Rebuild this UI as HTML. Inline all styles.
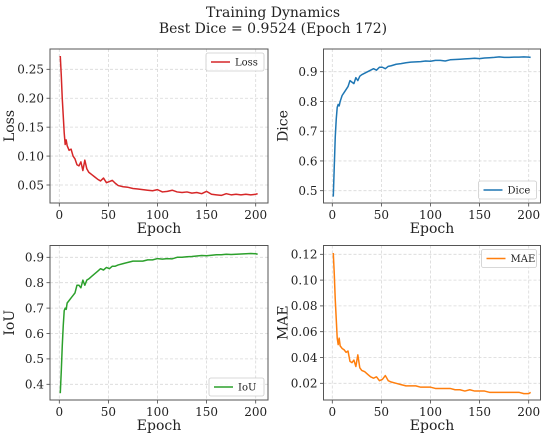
<!DOCTYPE html>
<html><head><meta charset="utf-8"><style>
body{margin:0;background:#fff;}
svg{display:block;font-family:"DejaVu Serif","Liberation Serif",serif;}
</style></head><body>
<svg id="chart" width="546" height="437" viewBox="0 0 546 437">
<text x="273" y="17" text-anchor="middle" font-size="14" fill="#222">Training Dynamics</text>
<text x="273" y="33" text-anchor="middle" font-size="14" fill="#222">Best Dice = 0.9524 (Epoch 172)</text>
</svg>
<script>
const epochs=[1,2,3,4,5,6,7,8,10,12,14,16,18,20,22,24,26,28,30,33,36,39,42,45,48,51,54,57,60,65,70,75,80,85,90,95,100,105,110,115,120,125,130,135,140,145,150,155,160,165,170,175,180,185,190,195,200,202];
const lossVals=[0.273,0.24,0.2,0.17,0.14,0.12,0.128,0.118,0.11,0.112,0.1,0.095,0.085,0.083,0.09,0.075,0.093,0.078,0.072,0.068,0.064,0.06,0.057,0.062,0.054,0.056,0.058,0.053,0.049,0.047,0.046,0.044,0.043,0.042,0.041,0.04,0.042,0.038,0.039,0.041,0.038,0.037,0.038,0.036,0.037,0.035,0.039,0.034,0.033,0.032,0.035,0.033,0.034,0.033,0.034,0.033,0.034,0.035];
const diceVals=[0.48,0.58,0.68,0.74,0.78,0.79,0.785,0.80,0.82,0.83,0.84,0.85,0.87,0.865,0.86,0.88,0.87,0.885,0.89,0.895,0.90,0.905,0.91,0.905,0.915,0.915,0.91,0.918,0.92,0.925,0.927,0.93,0.932,0.933,0.934,0.936,0.935,0.938,0.938,0.936,0.94,0.941,0.942,0.943,0.944,0.945,0.944,0.946,0.947,0.948,0.95,0.948,0.948,0.949,0.949,0.95,0.949,0.948];
const iouVals=[0.365,0.45,0.55,0.63,0.69,0.70,0.695,0.72,0.73,0.74,0.75,0.76,0.79,0.79,0.78,0.81,0.79,0.81,0.815,0.825,0.835,0.845,0.855,0.85,0.86,0.855,0.865,0.865,0.87,0.875,0.88,0.885,0.885,0.885,0.89,0.89,0.895,0.893,0.895,0.894,0.9,0.9,0.902,0.903,0.905,0.907,0.906,0.908,0.91,0.91,0.912,0.911,0.912,0.913,0.914,0.915,0.914,0.912];
const maeVals=[0.121,0.105,0.085,0.07,0.055,0.05,0.055,0.049,0.047,0.046,0.044,0.045,0.037,0.036,0.038,0.033,0.042,0.032,0.03,0.029,0.027,0.025,0.024,0.025,0.022,0.023,0.026,0.022,0.021,0.02,0.019,0.018,0.018,0.018,0.017,0.017,0.017,0.016,0.016,0.016,0.016,0.015,0.015,0.014,0.015,0.014,0.014,0.014,0.013,0.013,0.013,0.013,0.013,0.013,0.013,0.012,0.012,0.013];
const xTicks=[0,50,100,150,200];
const lossTicks=[0.05,0.10,0.15,0.20,0.25];
const diceTicks=[0.5,0.6,0.7,0.8,0.9];
const iouTicks=[0.4,0.5,0.6,0.7,0.8,0.9];
const maeTicks=[0.02,0.04,0.06,0.08,0.10,0.12];

const NS='http://www.w3.org/2000/svg';
const svg=document.getElementById('chart');
function mk(tag,attrs,parent){const e=document.createElementNS(NS,tag);for(const k in attrs)e.setAttribute(k,attrs[k]);(parent||svg).appendChild(e);return e;}

const panels=[
 {key:'loss',label:'Loss',vals:lossVals,ticks:lossTicks,dec:2,color:'#d62728',box:[50,49,268,203],x0:59.3,x200:255.7,yA:[0.05,185],yB:[0.25,69.3],legend:'tr'},
 {key:'dice',label:'Dice',vals:diceVals,ticks:diceTicks,dec:1,color:'#1f77b4',box:[323.5,49,540.5,203],x0:332.3,x200:528.7,yA:[0.5,190.7],yB:[0.9,71.7],legend:'br'},
 {key:'iou',label:'IoU',vals:iouVals,ticks:iouTicks,dec:1,color:'#2ca02c',box:[50,245.5,268,400],x0:59.3,x200:255.7,yA:[0.4,384.3],yB:[0.9,257.3],legend:'br'},
 {key:'mae',label:'MAE',vals:maeVals,ticks:maeTicks,dec:2,color:'#ff7f0e',box:[323.5,245.5,540.5,400],x0:332.3,x200:528.7,yA:[0.02,383.3],yB:[0.12,254.3],legend:'tr'}
];

panels.forEach(p=>{
 const g=mk('g',{});
 
 
 const [L,T,R,B]=p.box;
 const xs=v=>p.x0+(v/200)*(p.x200-p.x0);
 const ys=v=>p.yA[1]+(v-p.yA[0])*(p.yB[1]-p.yA[1])/(p.yB[0]-p.yA[0]);
 xTicks.forEach(t=>{
  const l=mk('line',{x1:xs(t),x2:xs(t),y1:T,y2:B,stroke:'#d8d8d8','stroke-width':0.8,'stroke-dasharray':'3,2'},g);
  
  
  mk('line',{x1:xs(t),x2:xs(t),y1:B,y2:B+3.5,stroke:'#444','stroke-width':0.8},g);
  const tx=mk('text',{x:xs(t),y:B+16,'text-anchor':'middle','font-size':12,fill:'#222'},g);
  tx.textContent=t;
  
  
 });
 p.ticks.forEach(t=>{
  const y=ys(t);
  const l=mk('line',{x1:L,x2:R,y1:y,y2:y,stroke:'#d8d8d8','stroke-width':0.8,'stroke-dasharray':'3,2'},g);
  
  
  mk('line',{x1:L-3.5,x2:L,y1:y,y2:y,stroke:'#444','stroke-width':0.8},g);
  const tx=mk('text',{x:L-6,y:y+4.3,'text-anchor':'end','font-size':12,fill:'#222'},g);
  tx.textContent=t.toFixed(p.dec);
  
  
 });
 const d=epochs.map((e,i)=>(i?'L':'M')+xs(e).toFixed(2)+','+ys(p.vals[i]).toFixed(2)).join('');
 const path=mk('path',{d:d,fill:'none',stroke:p.color,'stroke-width':1.5,'stroke-linejoin':'round'},g);
 
 
 const fr=mk('rect',{x:L,y:T,width:R-L,height:B-T,fill:'none',stroke:'#555','stroke-width':1},g);
 
 
 const xl=mk('text',{x:(L+R)/2,y:B+30,'text-anchor':'middle','font-size':14,fill:'#222'},g);
 xl.textContent='Epoch';
 
 
 const lx=L-36;
 const yl=mk('text',{x:lx,y:(T+B)/2,'text-anchor':'middle','font-size':14,fill:'#222',transform:'rotate(-90 '+lx+' '+((T+B)/2)+')'},g);
 yl.textContent=p.label;
 
 
 const w=p.label.length>3?58:55, h=18;
 const lxp=R-w-4, lyp=p.legend==='tr'?T+4:B-h-4;
 const lg=mk('g',{},g);
 
 
 mk('rect',{x:lxp,y:lyp,width:w,height:h,rx:2,fill:'#fff','fill-opacity':0.85,stroke:'#ccc','stroke-width':0.8},lg);
 mk('line',{x1:lxp+5,x2:lxp+24,y1:lyp+h/2,y2:lyp+h/2,stroke:p.color,'stroke-width':1.5},lg);
 const lt=mk('text',{x:lxp+29,y:lyp+h/2+3.5,'font-size':10,fill:'#222'},lg);
 lt.textContent=p.label;
 
 
});
</script>
</body></html>
